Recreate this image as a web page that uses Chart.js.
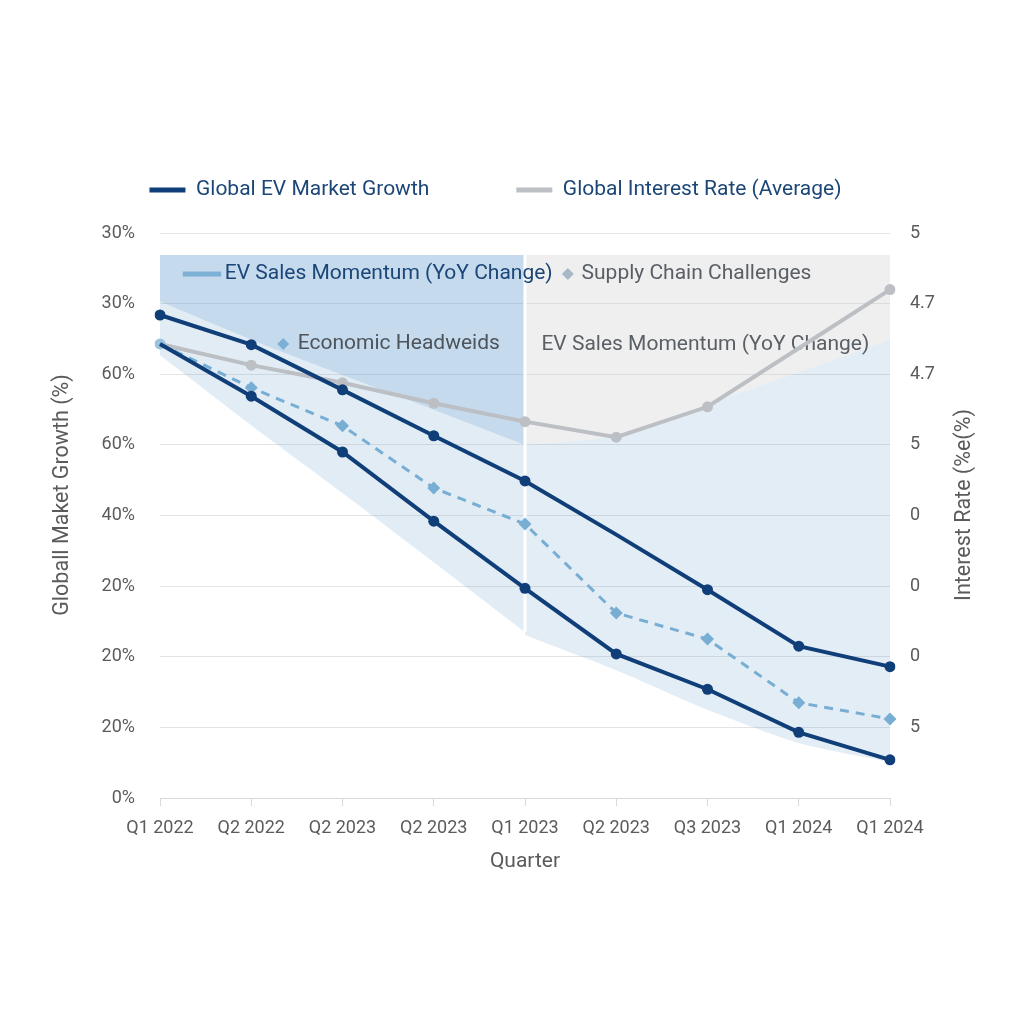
<!DOCTYPE html>
<html lang="en">
<head>
<meta charset="UTF-8">
<title>Global EV Market Growth vs Interest Rate</title>
<script src="https://cdn.jsdelivr.net/npm/chart.js"></script>
<style>
  html, body { margin: 0; padding: 0; background: #fff; }
  #chart { display: block; }
</style>
</head>
<body>
<canvas id="chart" width="1024" height="1024"></canvas>
<script>
// categories and tick labels (tick labels listed bottom to top)
const quarters = ['Q1 2022', 'Q2 2022', 'Q2 2023', 'Q2 2023', 'Q1 2023', 'Q2 2023', 'Q3 2023', 'Q1 2024', 'Q1 2024'];
const leftTickLabels = ['0%', '20%', '20%', '20%', '40%', '60%', '60%', '30%', '30%'];
const rightTickLabels = ['', '5', '0', '0', '0', '5', '4.7', '4.7', '5'];

// series, in grid-step units (0 = bottom line, 8 = top line)
const evGrowth = [6.84, 6.42, 5.78, 5.13, 4.49, 3.73, 2.95, 2.15, 1.86];
const evGrowthLow = [6.43, 5.69, 4.90, 3.92, 2.97, 2.04, 1.54, 0.93, 0.54];
const interestRate = [6.43, 6.13, 5.88, 5.59, 5.33, 5.11, 5.54, 6.37, 7.20];
const headwinds = [6.43, 5.81, 5.27, 4.39, 3.88, 2.62, 2.25, 1.35, 1.12];

// shaded periods
const shadeTop = 7.69;
const leftShadeTop = [7.69, 7.69, 7.69, 7.69, 7.69, null, null, null, null];
const leftShadeEdge = [7.03, 6.49, 5.99, 5.50, 5.00, null, null, null, null];
const leftBandLow = [6.27, 5.28, 4.32, 3.34, 2.35, null, null, null, null];
const rightShadeTop = [null, null, null, null, 7.69, 7.69, 7.69, 7.69, 7.69];
const rightShadeEdge = [null, null, null, null, 5.00, 5.13, 5.58, 6.03, 6.49];
const rightBandLow = [null, null, null, null, 2.31, 1.81, 1.25, 0.78, 0.51];
const splitIndex = 4;

const NAVY = '#0f3e78';
const GRAY = '#bcbfc3';
const LIGHT = '#78aed4';
const TICK = '#5b5b5b';
const FONT = 'Roboto';
const Y_MAX = 8.32;

// in-plot labels, placed by category index and grid value
const notes = [
  {kind: 'swatch', x0: 0.25, x1: 0.67, y: 7.42, color: '#7db0d5'},
  {kind: 'text', x: 0.71, y: 7.42, text: 'EV Sales Momentum (YoY Change)', color: '#1b4677'},
  {kind: 'diamond', x: 4.47, y: 7.42, color: '#a7b9c9'},
  {kind: 'text', x: 4.62, y: 7.42, text: 'Supply Chain Challenges', color: '#5a5f66'},
  {kind: 'diamond', x: 1.35, y: 6.43, color: '#7db0d5'},
  {kind: 'text', x: 1.51, y: 6.43, text: 'Economic Headweids', color: '#4d545c'},
  {kind: 'text', x: 4.18, y: 6.42, text: 'EV Sales Momentum (YoY Change)', color: '#5a5f66'}
];

const overlay = {
  id: 'overlay',
  beforeDatasetsDraw(chart) {
    const {ctx, scales: {x, y}} = chart;
    ctx.save();
    // white gap between the two periods
    const sx = x.getPixelForValue(splitIndex);
    ctx.strokeStyle = '#ffffff';
    ctx.lineWidth = 3;
    ctx.beginPath();
    ctx.moveTo(sx, y.getPixelForValue(shadeTop));
    ctx.lineTo(sx, y.getPixelForValue(leftBandLow[splitIndex]));
    ctx.stroke();

    ctx.font = '21px ' + FONT;
    ctx.textBaseline = 'middle';
    notes.forEach(n => {
      const py = y.getPixelForValue(n.y);
      if (n.kind === 'swatch') {
        ctx.fillStyle = n.color;
        const a = x.getPixelForValue(n.x0), b = x.getPixelForValue(n.x1);
        ctx.fillRect(a, py - 2.5, b - a, 5);
      } else if (n.kind === 'diamond') {
        const px = x.getPixelForValue(n.x);
        ctx.fillStyle = n.color;
        ctx.beginPath();
        ctx.moveTo(px, py - 6); ctx.lineTo(px + 6, py); ctx.lineTo(px, py + 6); ctx.lineTo(px - 6, py);
        ctx.closePath();
        ctx.fill();
      } else {
        ctx.fillStyle = n.color;
        ctx.textAlign = 'left';
        ctx.fillText(n.text, x.getPixelForValue(n.x), py);
      }
    });

    // axis titles, both read bottom to top
    ctx.font = '21.5px ' + FONT;
    ctx.fillStyle = TICK;
    ctx.textAlign = 'center';
    [[63, 495, 'Globall Maket Growth (%)'], [965, 505, 'Interest Rate (%e(%)']].forEach(([tx, ty, t]) => {
      ctx.save();
      ctx.translate(tx, ty);
      ctx.rotate(-Math.PI / 2);
      ctx.fillText(t, 0, 0);
      ctx.restore();
    });
    ctx.restore();
  }
};

const shade = (data, color, fill) => ({
  data, fill, backgroundColor: color, borderWidth: 0, borderColor: 'transparent',
  pointRadius: 0, pointHoverRadius: 0, tension: 0.25, order: 4
});

const keepWhole = s => { s.ticks = s.ticks.filter(t => Number.isInteger(t.value)); };
const tickFont = {family: FONT, size: 18};

new Chart(document.getElementById('chart'), {
  type: 'line',
  data: {
    labels: quarters,
    datasets: [
      {
        label: 'Global EV Market Growth', data: evGrowth, borderColor: NAVY, backgroundColor: NAVY,
        borderWidth: 4, pointRadius: c => (c.dataIndex === 5 ? 0 : 5.5), pointBackgroundColor: NAVY,
        pointBorderWidth: 0, tension: 0, fill: false, order: 1
      },
      {
        label: 'Global Interest Rate (Average)', data: interestRate, borderColor: GRAY, backgroundColor: GRAY,
        borderWidth: 4, pointRadius: c => (c.dataIndex === 7 ? 0 : 5.5),
        pointBackgroundColor: c => (c.dataIndex === 0 ? '#9cc3de' : GRAY),
        pointBorderWidth: 0, tension: 0, fill: false, order: 3
      },
      {
        label: 'EV Growth (low)', data: evGrowthLow, borderColor: NAVY, backgroundColor: NAVY,
        borderWidth: 4, pointRadius: c => (c.dataIndex === 0 ? 0 : 5.5), pointBackgroundColor: NAVY,
        pointBorderWidth: 0, tension: 0, fill: false, order: 1
      },
      {
        label: 'Economic Headweids', data: headwinds, borderColor: LIGHT, backgroundColor: LIGHT,
        borderWidth: 3, borderDash: [9, 7], pointStyle: 'rectRot',
        pointRadius: c => (c.dataIndex === 0 ? 0 : 6.5), pointBackgroundColor: LIGHT,
        pointBorderWidth: 0, tension: 0, fill: false, order: 2
      },
      shade(leftShadeTop, 'rgba(90,150,200,0.35)', '+1'),
      shade(leftShadeEdge, 'rgba(90,150,200,0.18)', '+1'),
      shade(leftBandLow, 'transparent', false),
      shade(rightShadeTop, 'rgba(200,200,200,0.29)', '+1'),
      shade(rightShadeEdge, 'rgba(90,150,200,0.17)', '+1'),
      shade(rightBandLow, 'transparent', false)
    ]
  },
  options: {
    responsive: false,
    animation: false,
    layout: {padding: {top: 92.5, left: 40, right: 73, bottom: 145.5}},
    plugins: {
      filler: {drawTime: 'beforeDatasetsDraw'},
      tooltip: {enabled: false},
      legend: {
        display: true,
        position: 'top',
        labels: {
          boxWidth: 36,
          boxHeight: 5,
          padding: 87,
          color: '#1b4677',
          font: {family: FONT, size: 21},
          generateLabels: chart => [0, 1].map(i => {
            const ds = chart.data.datasets[i];
            return {text: ds.label, fillStyle: ds.borderColor, strokeStyle: ds.borderColor,
              lineWidth: 0, datasetIndex: i, fontColor: '#1b4677'};
          })
        }
      }
    },
    scales: {
      x: {
        offset: false,
        grid: {drawOnChartArea: false, drawTicks: true, tickLength: 8, color: '#d9d9d9'},
        border: {display: true, color: '#d9d9d9'},
        ticks: {color: TICK, font: tickFont, padding: 12, maxRotation: 0, autoSkip: false},
        title: {display: true, text: 'Quarter', color: TICK, font: {family: FONT, size: 21}, padding: {top: 4, bottom: 4}},
        afterFit: s => { s.height = 80.5; }
      },
      y: {
        position: 'left',
        min: 0,
        max: Y_MAX,
        afterBuildTicks: keepWhole,
        grid: {color: '#e4e4e4', drawTicks: false},
        border: {display: false},
        ticks: {stepSize: 1, padding: 25, color: TICK, font: tickFont, callback: v => leftTickLabels[v]},
        afterFit: s => { s.width = 120; }
      },
      y2: {
        position: 'right',
        min: 0,
        max: Y_MAX,
        afterBuildTicks: keepWhole,
        grid: {drawOnChartArea: false, drawTicks: false},
        border: {display: false},
        ticks: {stepSize: 1, padding: 20, color: TICK, font: tickFont, callback: v => rightTickLabels[v]},
        afterFit: s => { s.width = 61; }
      }
    }
  },
  plugins: [overlay]
});
</script>
</body>
</html>
